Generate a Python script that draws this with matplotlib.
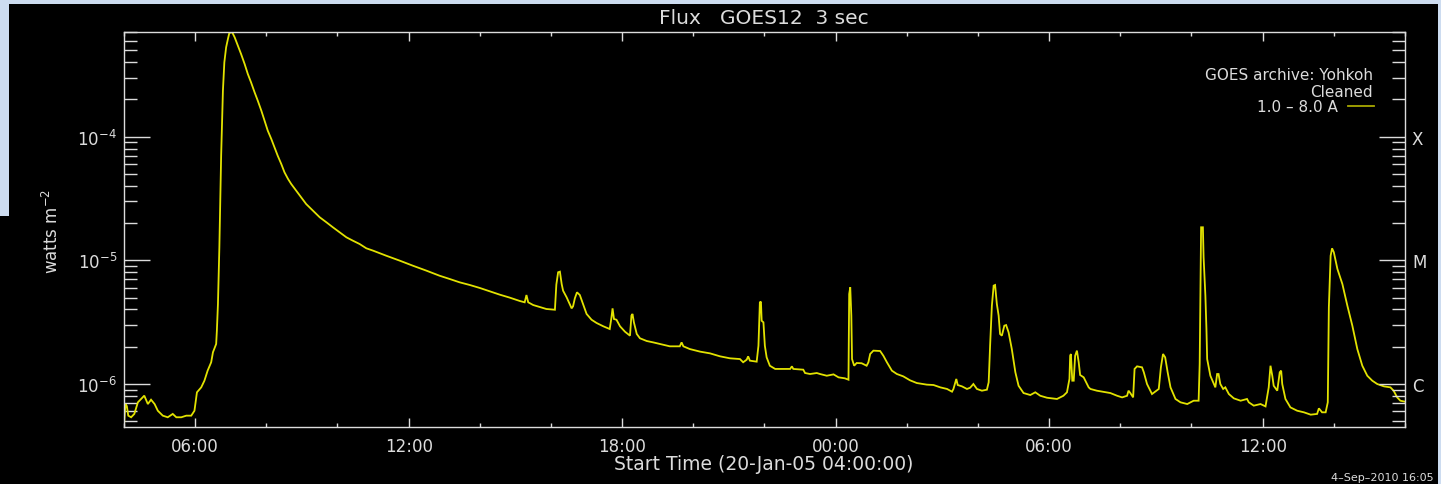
import numpy as np
import matplotlib
matplotlib.use("Agg")
import matplotlib.pyplot as plt
from matplotlib.ticker import FixedLocator, LogLocator, NullFormatter
from matplotlib.patches import Rectangle
from matplotlib.lines import Line2D

plt.rcParams['font.family'] = ['DejaVu Sans']
plt.rcParams['mathtext.fontset'] = 'dejavusans'

# ---------------- data (hours after 20-Jan-05 04:00:00, log10 flux W m^-2) -------------
hours = [
    0.00, 0.04, 0.08, 0.12, 0.20, 0.29, 0.39, 0.48, 0.57, 0.67, 0.76, 0.86, 0.95, 1.09,
    1.23, 1.37, 1.47, 1.61, 1.75, 1.89, 1.98, 2.05, 2.17, 2.26, 2.35, 2.45, 2.50, 2.59,
    2.61, 2.64, 2.68, 2.73, 2.78, 2.82, 2.87, 2.92, 2.96, 3.04, 3.11, 3.20, 3.29, 3.39,
    3.48, 3.57, 3.67, 3.76, 3.86, 3.95, 4.04, 4.14, 4.23, 4.32, 4.42, 4.51, 4.61, 4.70,
    4.84, 4.98, 5.12, 5.31, 5.50, 5.69, 5.87, 6.06, 6.25, 6.43, 6.62, 6.81, 7.00, 7.37,
    7.75, 8.12, 8.50, 8.87,
    9.15, 9.43, 9.72, 10.00, 10.28, 10.56, 10.84, 11.12, 11.26, 11.31, 11.36, 11.50,
    11.68, 11.87, 12.11, 12.15, 12.20, 12.25, 12.30, 12.34, 12.44, 12.58, 12.62, 12.67,
    12.73, 12.81, 12.90, 13.00, 13.14, 13.28, 13.47, 13.65, 13.70, 13.73, 13.77, 13.84,
    13.94, 14.08, 14.22, 14.26, 14.29, 14.33, 14.41, 14.50, 14.69, 14.87, 15.06, 15.34,
    15.62, 15.67, 15.72, 15.90, 16.19, 16.47, 16.75, 17.03, 17.31, 17.40, 17.50, 17.54,
    17.59, 17.78, 17.83, 17.87, 17.90, 17.92, 17.97, 18.01, 18.06, 18.15,
    18.30, 18.72, 18.77, 18.81, 19.09, 19.14, 19.28, 19.47, 19.56, 19.75, 19.94, 20.08,
    20.26, 20.36, 20.38, 20.41, 20.44, 20.46, 20.52, 20.59, 20.73, 20.87, 20.92, 20.97,
    21.06, 21.25, 21.34, 21.44, 21.58, 21.72, 21.90, 22.09, 22.28, 22.56, 22.75, 22.94,
    23.13, 23.27, 23.31, 23.39, 23.43, 23.55, 23.69, 23.78, 23.87, 23.97, 24.11, 24.25,
    24.30, 24.34, 24.39, 24.44, 24.48, 24.53, 24.58, 24.62, 24.67, 24.74, 24.79, 24.86,
    24.95, 25.05, 25.14, 25.28, 25.47, 25.61, 25.75, 25.94, 26.22, 26.40, 26.50, 26.57,
    26.59, 26.61, 26.65, 26.69, 26.73, 26.78, 26.83, 26.87, 26.97, 27.11, 27.16,
    27.34, 27.72, 27.91, 28.05, 28.19, 28.23, 28.28, 28.36, 28.40, 28.47, 28.61, 28.66,
    28.75, 28.89, 28.98, 29.08, 29.14, 29.20, 29.26, 29.33, 29.41, 29.55, 29.69, 29.88,
    30.06, 30.20, 30.23, 30.27, 30.32, 30.34, 30.39, 30.42, 30.44, 30.53, 30.67, 30.72,
    30.76, 30.81, 30.89, 30.95, 31.05, 31.19, 31.38, 31.56, 31.61, 31.75, 31.94, 32.08,
    32.17, 32.22, 32.27, 32.31, 32.41, 32.48, 32.52, 32.55, 32.64, 32.78, 32.97, 33.16,
    33.35, 33.53, 33.58, 33.67, 33.77, 33.83, 33.86, 33.91, 33.95, 34.00, 34.10, 34.24,
    34.38, 34.52, 34.66, 34.80, 34.94, 35.08, 35.22, 35.41, 35.59, 35.68, 35.78, 35.87,
    36.00,
]
log_flux = [
    -6.338, -6.163, -6.180, -6.257, -6.270, -6.243, -6.149, -6.122, -6.095, -6.163, -6.128,
    -6.163, -6.217, -6.257, -6.270, -6.243, -6.270, -6.270, -6.257, -6.257, -6.217, -6.068,
    -6.028, -5.974, -5.893, -5.825, -5.744, -5.677, -5.570, -5.354, -4.895, -4.154, -3.628,
    -3.398, -3.277, -3.210, -3.161, -3.155, -3.196, -3.264, -3.331, -3.412, -3.493, -3.560,
    -3.641, -3.709, -3.790, -3.871, -3.951, -4.019, -4.086, -4.154, -4.221, -4.288, -4.342,
    -4.383, -4.437, -4.490, -4.545, -4.599, -4.652, -4.693, -4.733, -4.774, -4.814, -4.841,
    -4.868, -4.903, -4.922, -4.963, -5.003, -5.044, -5.084, -5.125,
    -5.151, -5.178, -5.200, -5.224, -5.251, -5.278, -5.302, -5.329, -5.340, -5.281, -5.340,
    -5.362, -5.378, -5.394, -5.400, -5.197, -5.097, -5.092, -5.192, -5.246, -5.300, -5.389,
    -5.372, -5.308, -5.259, -5.281, -5.354, -5.434, -5.481, -5.507, -5.534, -5.556, -5.461,
    -5.389, -5.475, -5.481, -5.534, -5.578, -5.610, -5.448, -5.434, -5.502, -5.596, -5.631,
    -5.653, -5.664, -5.677, -5.696, -5.696, -5.664, -5.696, -5.718, -5.739, -5.753, -5.777,
    -5.793, -5.799, -5.825, -5.804, -5.777, -5.812, -5.820, -5.691, -5.340, -5.335, -5.489,
    -5.502, -5.691, -5.785, -5.853,
    -5.879, -5.879, -5.858, -5.879, -5.885, -5.912, -5.920, -5.912, -5.920, -5.934, -5.923,
    -5.947, -5.955, -5.966, -5.273, -5.219, -5.448, -5.799, -5.853, -5.831, -5.833, -5.853,
    -5.825, -5.758, -5.731, -5.734, -5.772, -5.825, -5.893, -5.920, -5.939, -5.971, -5.993,
    -6.006, -6.009, -6.028, -6.041, -6.063, -6.041, -5.960, -6.009, -6.020, -6.041, -6.031,
    -6.001, -6.041, -6.055, -6.047, -5.987, -5.691, -5.367, -5.205, -5.200, -5.354, -5.448,
    -5.596, -5.610, -5.529, -5.524, -5.583, -5.718, -5.906, -6.015, -6.074, -6.090, -6.068,
    -6.096, -6.112, -6.122, -6.096, -6.068, -5.960, -5.772, -5.758, -5.974, -5.974, -5.772,
    -5.731, -5.825, -5.928, -5.947, -6.028, -6.041,
    -6.055, -6.074, -6.096, -6.109, -6.096, -6.055, -6.074, -6.109, -5.879, -5.858, -5.866,
    -5.906, -6.001, -6.082, -6.063, -6.041, -5.866, -5.758, -5.785, -5.906, -6.028, -6.122,
    -6.149, -6.163, -6.136, -6.136, -5.839, -4.733, -4.733, -4.976, -5.286, -5.556, -5.799,
    -5.934, -6.028, -5.920, -5.920, -6.001, -6.041, -6.028, -6.082, -6.117, -6.136, -6.122,
    -6.149, -6.176, -6.163, -6.182, -6.028, -5.853, -5.934, -6.015, -6.055, -5.906, -5.893,
    -6.001, -6.122, -6.190, -6.217, -6.230, -6.249, -6.243, -6.198, -6.230, -6.230, -6.149,
    -5.380, -4.963, -4.903, -4.935, -5.070, -5.192, -5.367, -5.529, -5.718, -5.853, -5.934,
    -5.974, -6.001, -6.020, -6.028, -6.055, -6.109, -6.136, -6.144,
]

major_tick_hours = [2, 8, 14, 20, 26, 32]
major_tick_labels = ["06:00", "12:00", "18:00", "00:00", "06:00", "12:00"]
minor_tick_hours = [0, 4, 6, 10, 12, 16, 18, 22, 24, 28, 30, 34, 36]
goes_class_labels = ["X", "M", "C"]
goes_class_flux = [1e-4, 1e-5, 1e-6]
y_tick_flux = [1e-4, 1e-5, 1e-6]
y_tick_labels = [r"$10^{-4}$", r"$10^{-5}$", r"$10^{-6}$"]

flux = np.power(10.0, np.array(log_flux))

# ---------------- figure ----------------
W, H = 1441, 485
fig = plt.figure(figsize=(W / 100, H / 100), dpi=100, facecolor="black")
blue = "#cddcf0"
fig.patches.append(Rectangle((0, 1 - 5 / H), 1, 5 / H, transform=fig.transFigure,
                             facecolor=blue, edgecolor="none", zorder=0))
fig.patches.append(Rectangle((0, 1 - 217 / H), 9 / W, 217 / H, transform=fig.transFigure,
                             facecolor=blue, edgecolor="none", zorder=0))
fig.patches.append(Rectangle((1438 / W, 0), 3 / W, 1, transform=fig.transFigure,
                             facecolor=blue, edgecolor="none", zorder=0))

left, right, top, bottom = 124, 1405, 33, 428
ax = fig.add_axes([left / W, 1 - bottom / H, (right - left) / W, (bottom - top) / H])
ax.set_facecolor("black")

fg = "#dcdcdc"
line_color = "#e2e200"

ax.plot(hours, flux, color=line_color, lw=1.3, solid_joinstyle="miter")
ax.set_yscale("log")
ax.set_xlim(0, 36)
ax.set_ylim(4.48e-7, 7.03e-4)

for s in ax.spines.values():
    s.set_color(fg)
    s.set_linewidth(1.0)

# x ticks
ax.xaxis.set_major_locator(FixedLocator(major_tick_hours))
ax.set_xticklabels(major_tick_labels)
ax.xaxis.set_minor_locator(FixedLocator(minor_tick_hours))
ax.tick_params(axis="x", which="major", direction="in", length=6.5, width=1.0,
               top=True, bottom=True, color=fg, labelcolor=fg, labelsize=12, pad=7)
ax.tick_params(axis="x", which="minor", direction="in", length=3, width=1.0,
               top=True, bottom=True, color=fg)

# y ticks (left)
ax.set_yticks(y_tick_flux)
ax.set_yticklabels(y_tick_labels)
ax.yaxis.set_minor_locator(LogLocator(base=10, subs=np.arange(2, 10)))
ax.yaxis.set_minor_formatter(NullFormatter())
ax.tick_params(axis="y", which="major", direction="in", length=18.5, width=1.0,
               left=True, right=False, color=fg, labelcolor=fg, labelsize=12, pad=5)
ax.tick_params(axis="y", which="minor", direction="in", length=9.3, width=1.0,
               left=True, right=False, color=fg)

# right axis with GOES classes
ax2 = ax.twinx()
ax2.set_yscale("log")
ax2.set_ylim(ax.get_ylim())
ax2.set_yticks(goes_class_flux)
ax2.set_yticklabels(goes_class_labels)
ax2.yaxis.set_minor_locator(LogLocator(base=10, subs=np.arange(2, 10)))
ax2.yaxis.set_minor_formatter(NullFormatter())
ax2.tick_params(axis="y", which="major", direction="in", length=18.5, width=1.0,
                color=fg, labelcolor=fg, labelsize=12, pad=5)
ax2.tick_params(axis="y", which="minor", direction="in", length=9.3, width=1.0, color=fg)
for s in ax2.spines.values():
    s.set_visible(False)

# labels
fig.text(764 / W, 1 - 19 / H, "Flux   GOES12  3 sec", color=fg, fontsize=14.5,
         ha="center", va="center")
fig.text(764 / W, 1 - 465 / H, "Start Time (20-Jan-05 04:00:00)", color=fg,
         fontsize=13.5, ha="center", va="center")
fig.text(52 / W, 1 - 231 / H, r"watts m$^{-2}$", color=fg, fontsize=12,
         rotation=90, ha="center", va="center")

# legend block
fig.text(1373 / W, 1 - 84 / H, "GOES archive: Yohkoh\nCleaned", color=fg, fontsize=11,
         ha="right", va="center", multialignment="right", linespacing=1.2)
fig.text(1338 / W, 1 - 107 / H, "1.0 \u2013 8.0 A", color=fg, fontsize=11,
         ha="right", va="center")
fig.lines.append(Line2D([1348 / W, 1374 / W], [1 - 107 / H, 1 - 107 / H],
                        transform=fig.transFigure, color="#a8a800", lw=1.3))

fig.text(1434 / W, 1 - 478 / H, "4\u2013Sep\u20132010 16:05", color=fg, fontsize=8,
         ha="right", va="center")

fig.savefig("out.png", dpi=100, facecolor=fig.get_facecolor())
